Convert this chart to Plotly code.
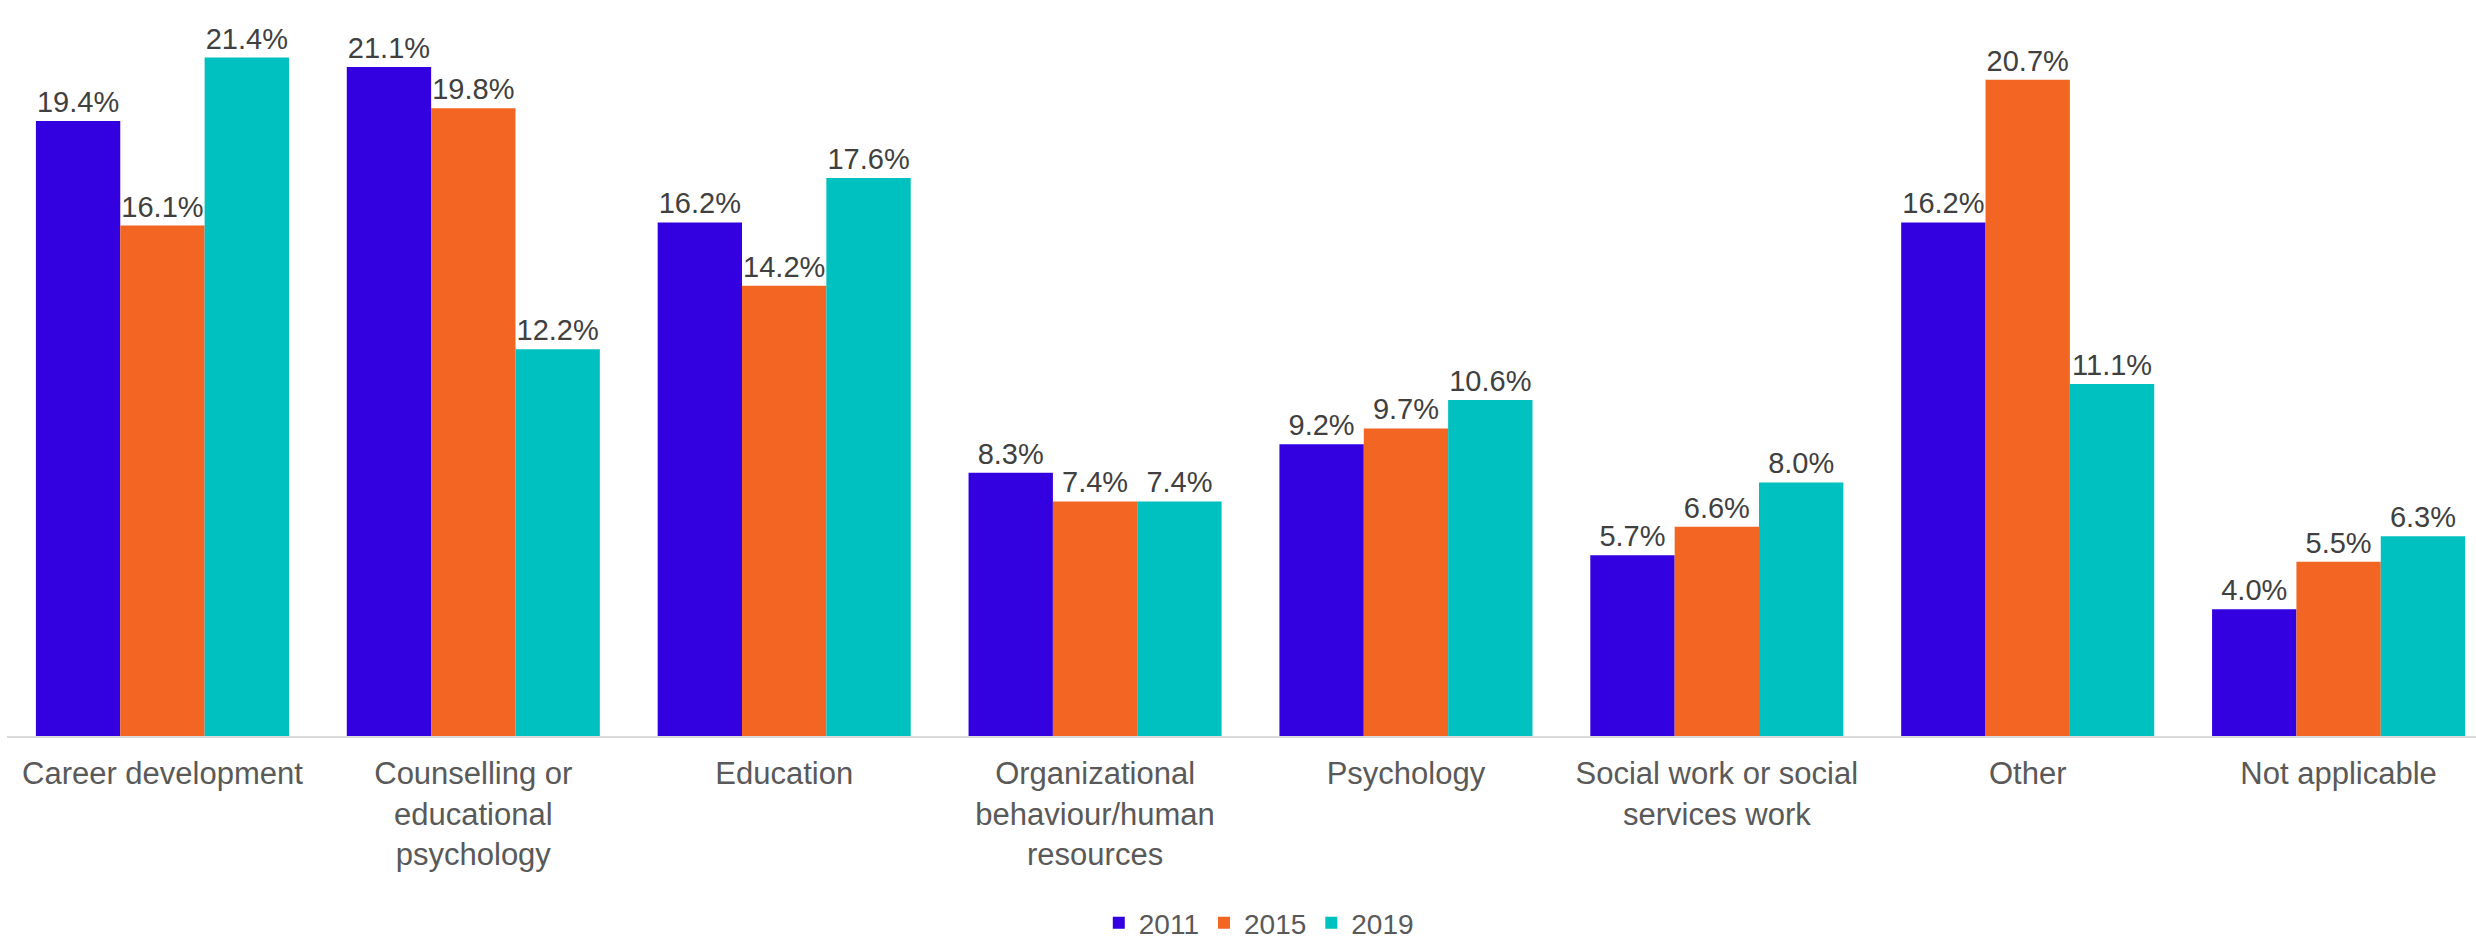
import plotly.graph_objects as go

categories = [
    "Career development",
    "Counselling or<br>educational<br>psychology",
    "Education",
    "Organizational<br>behaviour/human<br>resources",
    "Psychology",
    "Social work or social<br>services work",
    "Other",
    "Not applicable",
]
years = ["2011", "2015", "2019"]
values_2011 = [19.4, 21.1, 16.2, 8.3, 9.2, 5.7, 16.2, 4.0]
values_2015 = [16.1, 19.8, 14.2, 7.4, 9.7, 6.6, 20.7, 5.5]
values_2019 = [21.4, 12.2, 17.6, 7.4, 10.6, 8.0, 11.1, 6.3]
colors = ["#3300E0", "#F26522", "#00C0C0"]

FONT = "Liberation Sans, Arial, sans-serif"

fig = go.Figure()
for year, vals, col in zip(years, [values_2011, values_2015, values_2019], colors):
    fig.add_trace(go.Bar(
        name=year,
        x=categories,
        y=vals,
        marker=dict(color=col, line=dict(width=0)),
        text=[f"{v:.1f}%" for v in vals],
        textposition="outside",
        textfont=dict(family=FONT, size=29, color="#404040"),
        constraintext="none",
        cliponaxis=False,
    ))

fig.update_layout(
    width=2476,
    height=939,
    barmode="group",
    bargap=0.186,
    bargroupgap=0,
    plot_bgcolor="white",
    paper_bgcolor="white",
    margin=dict(l=7, r=0, t=10, b=203),
    font=dict(family=FONT, size=31, color="#595959"),
    xaxis=dict(
        range=[-0.5, 7.442],
        showline=True,
        linecolor="#D9D9D9",
        linewidth=2,
        ticks="",
        ticklabelstandoff=9,
        tickfont=dict(family=FONT, size=31, color="#595959"),
        showgrid=False,
    ),
    yaxis=dict(
        range=[0, 22.9],
        visible=False,
        showgrid=False,
        zeroline=False,
    ),
    legend=dict(
        orientation="h",
        x=0.507,
        xanchor="center",
        yref="container",
        y=0.017,
        yanchor="middle",
        font=dict(family=FONT, size=28, color="#595959"),
        itemwidth=30,
    ),
    showlegend=True,
)

fig.write_html("out.html")
